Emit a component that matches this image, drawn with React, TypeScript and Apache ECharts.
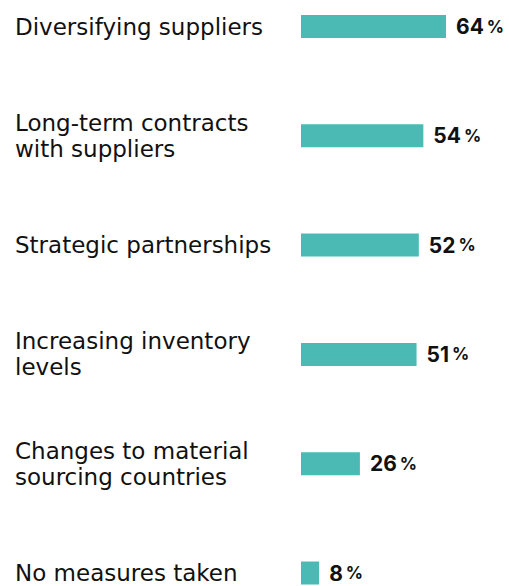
import React, { useEffect, useRef } from "react";
import * as echarts from "echarts";

const categories = [
  "Diversifying suppliers",
  "Long-term contracts\nwith suppliers",
  "Strategic partnerships",
  "Increasing inventory\nlevels",
  "Changes to material\nsourcing countries",
  "No measures taken",
];
const values = [64, 54, 52, 51, 26, 8];

export default function App() {
  const ref = useRef<HTMLDivElement>(null);
  useEffect(() => {
    const chart = echarts.init(ref.current!, null, { renderer: "svg" });
    chart.setOption({
      animation: false,
      backgroundColor: "#ffffff",
      grid: { left: 301, right: 0, top: 26.5, bottom: 9.5, containLabel: false },
      xAxis: { type: "value", min: 0, max: 91.8, show: false },
      yAxis: {
        type: "category",
        data: categories,
        inverse: true,
        boundaryGap: false,
        axisLine: { show: false },
        axisTick: { show: false },
        axisLabel: {
          align: "left",
          margin: 286,
          color: "#111111",
          fontFamily: "DejaVu Sans",
          fontSize: 23,
          lineHeight: 26,
        },
      },
      series: [
        {
          type: "bar",
          data: values,
          barWidth: 23,
          clip: false,
          itemStyle: { color: "#4bbab5" },
          label: {
            show: true,
            position: "right",
            distance: 10,
            formatter: (p: any) => `{n|${p.value}}{p|%}`,
            rich: {
              n: { fontFamily: "Inter", fontWeight: "bold", fontSize: 21, color: "#111111" },
              p: { fontFamily: "Inter", fontWeight: "bold", fontSize: 17, color: "#111111", padding: [0, 0, 0, 3] },
            },
          },
        },
      ],
    });
    return () => chart.dispose();
  }, []);
  return <div ref={ref} style={{ position: "absolute", left: 0, top: 0, width: 509, height: 586 }} />;
}
